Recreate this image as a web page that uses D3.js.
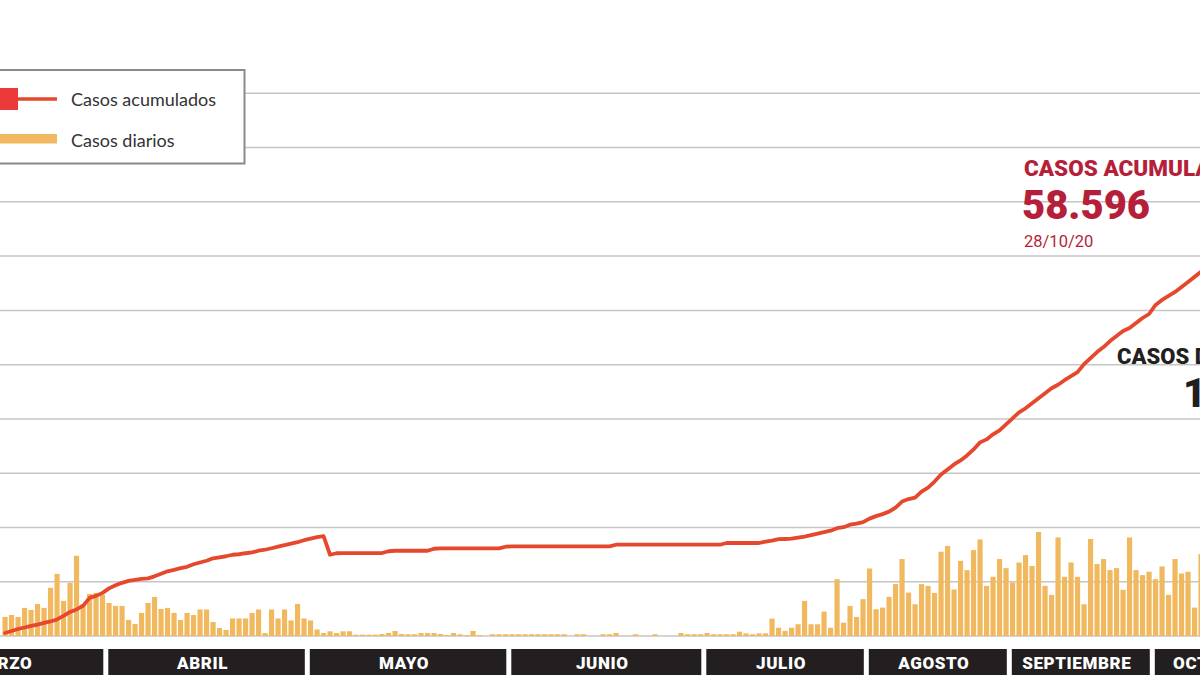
<!DOCTYPE html>
<html><head><meta charset="utf-8">
<script src="https://cdn.jsdelivr.net/npm/d3@7"></script>
<style>html,body{margin:0;padding:0;background:#fff;overflow:hidden}</style>
</head><body>
<svg id="chart" width="1200" height="675"></svg>
<script>
// ---------- DATA ----------
const months = ["MARZO","ABRIL","MAYO","JUNIO","JULIO","AGOSTO","SEPTIEMBRE","OCTUBRE"];
// number of reported days (bars) shown in each month
const barsPerMonth = [16,31,31,30,25,22,22,20];
const marchDaysBefore = 15; // 1-15 March lie left of the cropped view
const lastDate = "28/10/20";

const dailyCases = [
  193,213,193,285,264,325,285,488,630,356,
  539,813,325,427,437,417,335,305,305,163,
  122,234,335,396,274,285,234,163,234,213,
  269,269,142,81,61,178,178,178,234,269,
  30,269,178,269,158,325,178,158,66,30,
  48,30,48,48,14,14,14,14,20,30,
  51,20,18,18,30,30,30,20,10,30,
  17,10,51,10,0,18,18,18,18,18,
  18,18,18,18,18,18,18,0,18,18,
  0,0,18,18,30,0,0,18,0,0,
  18,0,0,0,30,18,18,18,30,18,
  18,18,18,44,27,18,27,27,176,84,
  51,84,119,356,119,119,247,84,576,135,
  305,193,373,684,271,288,396,526,780,440,
  322,526,508,437,854,912,471,762,668,871,
  979,508,600,780,688,542,745,820,709,1054,
  508,417,999,600,745,600,322,983,729,780,
  668,688,468,999,668,617,651,576,705,417,
  780,633,651,288,831,690,640,720,560,750,
  700,610,680,730,650,700,1064
];

const cumulativeCases = [
  416,693,970,1178,1386,1567,1802,2010,2287,2773,
  3327,3674,4159,5268,5545,5961,6585,7001,7347,7625,
  7763,7902,7971,8248,8595,8942,9150,9385,9565,9912,
  10162,10397,10744,10882,11021,11229,11298,11437,11548,11784,
  11922,12130,12338,12546,12754,12962,13239,13447,13655,13794,
  11229,11437,11465,11465,11465,11465,11465,11465,11465,11714,
  11784,11784,11784,11784,11784,11784,12061,12102,12102,12102,
  12102,12102,12102,12102,12102,12102,12102,12338,12380,12380,
  12380,12380,12380,12380,12380,12380,12380,12380,12380,12380,
  12380,12380,12380,12380,12615,12615,12615,12615,12615,12615,
  12615,12615,12615,12615,12615,12615,12615,12615,12615,12615,
  12615,12851,12851,12851,12851,12851,12851,13031,13170,13378,
  13406,13447,13586,13724,13932,14140,14348,14556,14903,15041,
  15388,15527,15735,16220,16566,16844,17190,17745,18576,18923,
  19131,19963,20517,21349,22319,23013,23706,24260,24953,25785,
  26756,27171,27865,28419,29251,30083,30914,31469,32162,32855,
  33548,34242,34727,35351,35905,36460,37569,38401,39232,39925,
  40757,41450,42144,42559,43253,43946,44500,45748,46441,46996,
  47550,48243,48936,49630,50323,50877,51501,52264,52957,53650,
  54343,55036,55729,56422,57000,57532,58596
];

const lineTicks = d3.range(0, 75001, 7500);

// ---------- CHART ----------
const svg = d3.select("#chart");
const N = dailyCases.length;
const x = d3.scaleBand().domain(d3.range(N)).range([2.45, 1281.65]).paddingInner(0.2).paddingOuter(0);
const yLine = d3.scaleLinear().domain([0, 75000]).range([636, 93.3]);
const yBar = d3.scaleLinear().domain([0, 5500]).range([636, 93.3]);
const bw = x.bandwidth(), step = x.step();

// gridlines
svg.append("g").selectAll("line").data(lineTicks).join("line")
  .attr("x1", -5).attr("x2", 1205)
  .attr("y1", d => yLine(d)).attr("y2", d => yLine(d))
  .attr("stroke", "#c6c6c6").attr("stroke-width", 1.5);

// bars
svg.append("g").selectAll("rect").data(dailyCases).join("rect")
  .attr("x", (d, i) => x(i)).attr("width", bw)
  .attr("y", d => yBar(d)).attr("height", d => yBar(0) - yBar(d))
  .attr("fill", "#f1b95f");

// cumulative line
const line = d3.line().x((d, i) => x(i) + bw / 2).y(d => yLine(d));
svg.append("path").datum(cumulativeCases)
  .attr("d", line).attr("fill", "none")
  .attr("stroke", "#e6482d").attr("stroke-width", 3.8)
  .attr("stroke-linejoin", "round").attr("stroke-linecap", "round");

// month boxes
let start = 0;
const monthData = months.map((m, k) => {
  const first = start, last = start + barsPerMonth[k] - 1;
  start += barsPerMonth[k];
  let left = x(first) - (step - bw) / 2 + 2.5;
  if (k === 0) left -= marchDaysBefore * step;
  const right = x(last) + bw + (step - bw) / 2 - 2.5;
  return {m, left, right};
});
const mg = svg.append("g");
mg.selectAll("rect").data(monthData).join("rect")
  .attr("x", d => d.left).attr("width", d => d.right - d.left)
  .attr("y", 649).attr("height", 40).attr("fill", "#231f20");
mg.selectAll("text").data(monthData).join("text")
  .attr("x", d => (d.left + d.right) / 2 - 4).attr("y", 668.5)
  .attr("text-anchor", "middle").attr("fill", "#fff")
  .style("font-family", "Roboto, sans-serif").style("font-weight", 900)
  .style("font-size", "17px").style("letter-spacing", "0.6px")
  .text(d => d.m);

// legend
const lg = svg.append("g");
lg.append("rect").attr("x", -10).attr("y", 70).attr("width", 254.5).attr("height", 93.5)
  .attr("fill", "#fff").attr("stroke", "#8a8a8a").attr("stroke-width", 2);
lg.append("line").attr("x1", 10).attr("x2", 57).attr("y1", 99).attr("y2", 99)
  .attr("stroke", "#e6482d").attr("stroke-width", 3.5);
lg.append("rect").attr("x", -5).attr("y", 88).attr("width", 23).attr("height", 22).attr("fill", "#ec3a3a");
lg.append("rect").attr("x", -5).attr("y", 134).attr("width", 62).attr("height", 9.5).attr("fill", "#f1b95f");
const legendText = ["Casos acumulados", "Casos diarios"];
lg.selectAll("text.lt").data(legendText).join("text").attr("class", "lt")
  .attr("x", 71).attr("y", (d, i) => 105.5 + i * 41.8)
  .attr("fill", "#333").style("font-family", "Lato, sans-serif")
  .style("font-size", "18px").text(d => d);

// annotations
const es = d3.formatLocale({decimal: ",", thousands: ".", grouping: [3], currency: ["", " €"]});
const fmt = es.format(",d");
const ann = svg.append("g").style("font-family", "Roboto, sans-serif");
ann.append("text").attr("x", 1024).attr("y", 175.5).attr("fill", "#b51f3a")
  .style("font-weight", 900).style("font-size", "22.5px").text("CASOS ACUMULADOS");
ann.append("text").attr("x", 1022).attr("y", 218.5).attr("fill", "#b51f3a")
  .style("font-weight", 900).style("font-size", "40px").text(fmt(cumulativeCases[N - 1]));
ann.append("text").attr("x", 1024).attr("y", 246.5).attr("fill", "#b51f3a")
  .style("font-weight", 400).style("font-size", "16.5px").text(lastDate);
ann.append("text").attr("x", 1117).attr("y", 363.5).attr("fill", "#231f20")
  .style("font-weight", 900).style("font-size", "22px").text("CASOS DIARIOS");
ann.append("text").attr("x", 1183).attr("y", 407).attr("fill", "#231f20")
  .style("font-weight", 900).style("font-size", "40px").text(fmt(dailyCases[N - 1]));
</script>
</body></html>
